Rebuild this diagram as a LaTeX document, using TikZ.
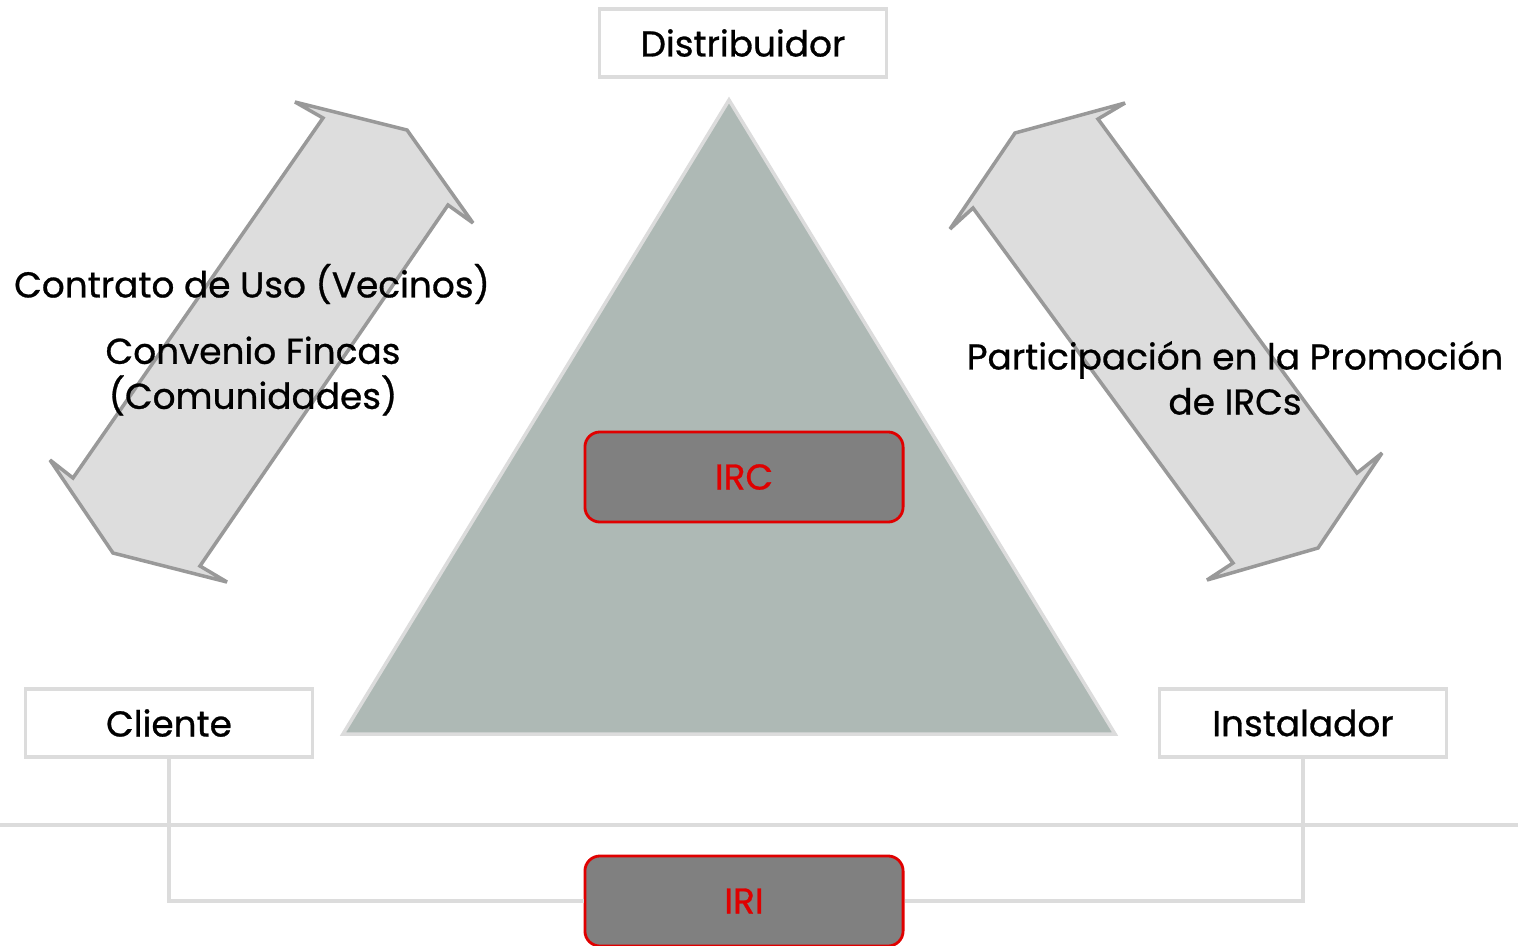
\documentclass[tikz,border=0pt]{standalone}
\usepackage{fontspec}
\setmainfont{Poppins}[FakeBold=0.8]
\usetikzlibrary{positioning}

\definecolor{boxline}{HTML}{DCDCDC}
\definecolor{pyramid}{HTML}{AEB9B5}
\definecolor{arrowfill}{HTML}{DDDDDD}
\definecolor{arrowline}{HTML}{999999}
\definecolor{keyfill}{HTML}{808080}
\definecolor{keyred}{HTML}{E00000}

\tikzset{
  role/.style={draw=boxline, line width=1pt, fill=white,
    minimum width=2.87cm, minimum height=0.68cm,
    font=\fontsize{10.2}{12}\selectfont},
  infra/.style={draw=keyred, line width=0.8pt, fill=keyfill,
    rounded corners=0.15cm, minimum width=3.18cm, minimum height=0.9cm,
    text=keyred, font=\fontsize{10.2}{12}\selectfont},
  agreement/.style={align=center, inner sep=0pt,
    font=\fontsize{10.2}{12.8}\selectfont},
  wire/.style={draw=boxline, line width=0.9pt}
}

\begin{document}
\begin{tikzpicture}[x=0.01cm, y=-0.01cm]
  \clip (0,0) rectangle (1518,945);

  % pyramid
  \filldraw[fill=pyramid, draw=boxline, line width=1pt]
    (729,100) -- (1115,734) -- (343,734) -- cycle;

  % double arrows
  \filldraw[fill=arrowfill, draw=arrowline, line width=1pt, miter limit=4]
    (295,102) -- (407,130) -- (473,223) -- (448,205) -- (200,566)
    -- (227,582) -- (113,553) -- (50,460) -- (73,478) -- (323,118) -- cycle;
  \filldraw[fill=arrowfill, draw=arrowline, line width=1pt, miter limit=4]
    (1125,103) -- (1098,119) -- (1357,473) -- (1382,453) -- (1318,548)
    -- (1207,580) -- (1233,563) -- (973,208) -- (950,229) -- (1015,133) -- cycle;

  % separator
  \coordinate (sepL) at (0,825);
  \coordinate (sepR) at (1518,825);
  \draw[wire, line width=1.3pt] (sepL) -- (sepR);

  % actors
  \node[role] (distribuidor) at (743,43) {Distribuidor};
  \node[role] (cliente) at (169,723) {Cliente};
  \node[role] (instalador) at (1303,723) {Instalador};

  % infrastructures
  \node[infra] (irc) at (744,477) {IRC};
  \node[infra] (iri) at (744,901) {IRI};

  \draw[wire] (cliente) |- (iri);
  \draw[wire] (instalador) |- (iri);

  % agreements
  \node[agreement] (uso) at (252,284) {Contrato de Uso (Vecinos)};
  \node[agreement] (fincas) at (253,376) {Convenio Fincas\\(Comunidades)};
  \node[agreement] (promocion) at (1235,378) {Participación en la Promoción\\de IRCs};
\end{tikzpicture}
\end{document}
